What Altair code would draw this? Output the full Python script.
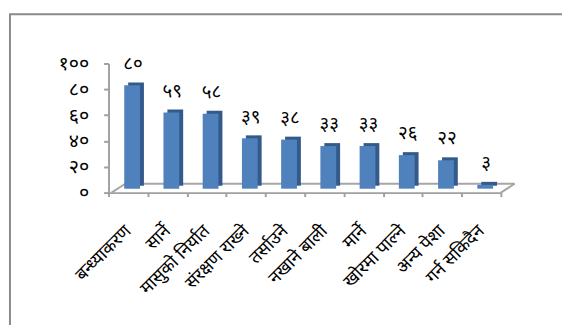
import altair as alt
import pandas as pd

categories = ["बन्ध्याकरण", "सार्ने", "मासुको  निर्यात", "संरक्षण  राख्ने", "तर्साउने",
              "नखाने  बाली", "मार्ने", "खोरमा  पाल्ने", "अन्य  पेशा", "गर्न  सकिदैन"]
values = [80, 59, 58, 39, 38, 33, 33, 26, 22, 3]
value_labels = ["८०", "५९", "५८", "३९", "३८", "३३", "३३", "२६", "२२", "३"]
y_ticks = [0, 20, 40, 60, 80, 100]
y_tick_labels = ["०", "२०", "४०", "६०", "८०", "१००"]

FONT = "Noto Sans Devanagari, Noto Sans, sans-serif"
W, H = 398, 131

df = pd.DataFrame({"cat": categories, "val": values, "lab": value_labels})

label_expr = " : ".join(f"datum.value == {v} ? '{l}'" for v, l in zip(y_ticks, y_tick_labels)) + " : ''"

x = alt.X("cat:N", sort=categories, title=None,
          scale=alt.Scale(paddingInner=0.0, paddingOuter=0.0),
          axis=alt.Axis(labelAngle=-45, labelAlign="right", labelBaseline="middle",
                        labelFontSize=18, labelFont=FONT, labelColor="#000",
                        labelPadding=32, tickBand="extent", tickSize=4,
                        tickColor="#a0a0a0", domainColor="#a0a0a0", domainWidth=2,
                        tickWidth=2, labelOverlap=False, labelLimit=200))
y = alt.Y("val:Q", title=None, scale=alt.Scale(domain=[0, 100], nice=False),
          axis=alt.Axis(values=y_ticks, labelExpr=label_expr, grid=False,
                        labelFontSize=20, labelFont=FONT, labelColor="#000",
                        labelPadding=15, tickSize=5, tickColor="#a0a0a0",
                        domainColor="#a0a0a0", domainWidth=2, tickWidth=2))

base = alt.Chart(df)
side = base.mark_bar(color="#335a8a", size=16, xOffset=8, yOffset=-7).encode(x=x, y=y)
front = base.mark_bar(color="#4f81bd", size=16, xOffset=4, yOffset=-4).encode(x=x, y=y)
text = base.mark_text(fontSize=19, font=FONT, color="#000", baseline="bottom",
                      dy=-16, xOffset=5).encode(x=x, y=y, text="lab:N")

one = pd.DataFrame({"a": [0]})
line_color = "#a6a6a6"
floor_back = alt.Chart(one).mark_rule(color=line_color, strokeWidth=2).encode(
    x=alt.value(17), x2=alt.value(412), y=alt.value(122))
floor_left = alt.Chart(one).mark_rule(color=line_color, strokeWidth=2).encode(
    x=alt.value(3), x2=alt.value(17), y=alt.value(131), y2=alt.value(122))
floor_right = alt.Chart(one).mark_rule(color=line_color, strokeWidth=2).encode(
    x=alt.value(398), x2=alt.value(412), y=alt.value(131), y2=alt.value(122))

frame_color = "#8a8a8a"
frame_left = alt.Chart(one).mark_rule(color=frame_color, strokeWidth=2).encode(
    x=alt.value(-100), y=alt.value(-50), y2=alt.value(270))
frame_top = alt.Chart(one).mark_rule(color=frame_color, strokeWidth=2).encode(
    x=alt.value(-101), x2=alt.value(470), y=alt.value(-50))

chart = alt.layer(frame_left, frame_top, floor_back, floor_left, floor_right,
                  side, front, text).properties(
    width=W, height=H,
    autosize=alt.AutoSizeParams(type="none"),
    padding={"left": 102, "top": 54, "right": 62, "bottom": 132},
    background="white",
).configure_view(stroke=None)

chart.save("out.html", embed_options={"renderer": "svg", "actions": False})
